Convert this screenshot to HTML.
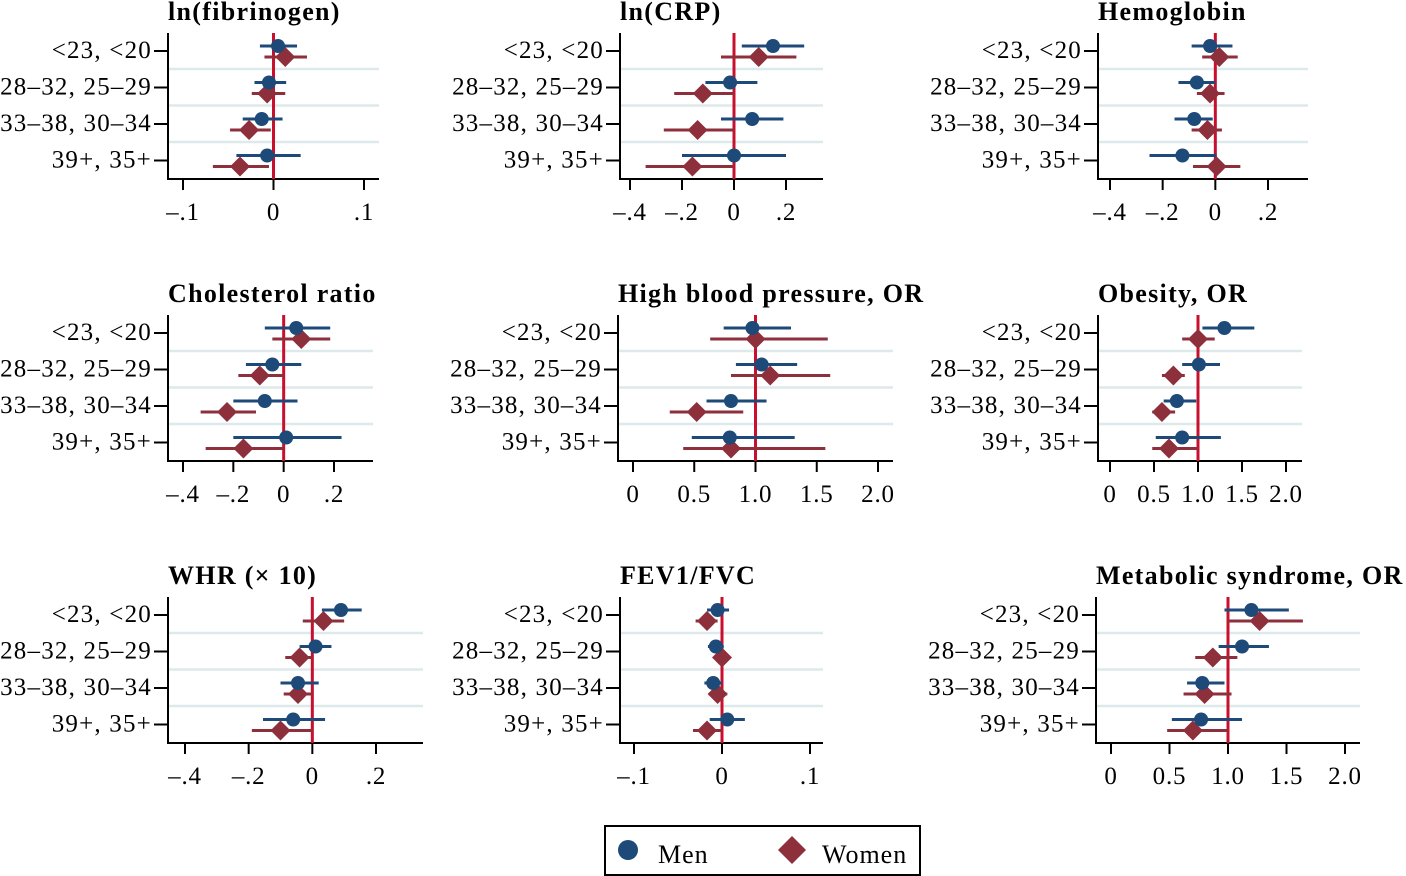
<!DOCTYPE html>
<html><head><meta charset="utf-8">
<style>
html,body{margin:0;padding:0;background:#fff;}
svg{display:block;font-family:"Liberation Serif",serif;}
</style></head>
<body>
<svg id="chart" width="1406" height="876" viewBox="0 0 1406 876"></svg>
<script>
const categories = ["<23, <20","28–32, 25–29","33–38, 30–34","39+, 35+"];
const titles = ["ln(fibrinogen)","ln(CRP)","Hemoglobin","Cholesterol ratio","High blood pressure, OR","Obesity, OR","WHR (× 10)","FEV1/FVC","Metabolic syndrome, OR"];
const refValues = [0,0,0,0,1,1,0,0,1];
const tickValues = [[-0.1,0,0.1],[-0.4,-0.2,0,0.2],[-0.4,-0.2,0,0.2],[-0.4,-0.2,0,0.2],[0,0.5,1,1.5,2],[0,0.5,1,1.5,2],[-0.4,-0.2,0,0.2],[-0.1,0,0.1],[0,0.5,1,1.5,2]];
const tickLabels = [["–.1","0",".1"],["–.4","–.2","0",".2"],["–.4","–.2","0",".2"],["–.4","–.2","0",".2"],["0","0.5","1.0","1.5","2.0"],["0","0.5","1.0","1.5","2.0"],["–.4","–.2","0",".2"],["–.1","0",".1"],["0","0.5","1.0","1.5","2.0"]];
const menEst = [[0.005,-0.005,-0.013,-0.007],[0.15,-0.015,0.07,0],[-0.02,-0.07,-0.08,-0.125],[0.05,-0.045,-0.075,0.01],[0.975,1.05,0.8,0.79],[1.3,1.01,0.76,0.82],[0.09,0.01,-0.045,-0.06],[-0.005,-0.007,-0.01,0.006],[1.2,1.12,0.78,0.77]];
const menLo = [[-0.015,-0.021,-0.034,-0.041],[0.03,-0.11,-0.05,-0.2],[-0.09,-0.14,-0.155,-0.25],[-0.075,-0.15,-0.2,-0.2],[0.74,0.84,0.6,0.48],[1.05,0.82,0.61,0.52],[0.03,-0.04,-0.1,-0.155],[-0.017,-0.016,-0.02,-0.014],[0.97,0.92,0.65,0.52]];
const menHi = [[0.026,0.014,0.01,0.03],[0.27,0.09,0.19,0.2],[0.065,0,-0.01,0.005],[0.185,0.07,0.055,0.23],[1.29,1.34,1.09,1.32],[1.64,1.25,0.98,1.26],[0.155,0.06,0.02,0.04],[0.008,0.002,0,0.026],[1.52,1.35,0.97,1.12]];
const womenEst = [[0.013,-0.007,-0.027,-0.037],[0.095,-0.12,-0.14,-0.16],[0.015,-0.02,-0.03,0.005],[0.07,-0.095,-0.225,-0.16],[1.0,1.12,0.52,0.8],[1.0,0.72,0.59,0.67],[0.035,-0.04,-0.045,-0.1],[-0.017,0,-0.005,-0.017],[1.27,0.87,0.8,0.7]];
const womenLo = [[-0.01,-0.024,-0.048,-0.067],[-0.05,-0.23,-0.27,-0.34],[-0.05,-0.07,-0.09,-0.085],[-0.045,-0.18,-0.33,-0.31],[0.63,0.8,0.3,0.41],[0.82,0.59,0.48,0.48],[-0.03,-0.085,-0.09,-0.19],[-0.03,-0.009,-0.015,-0.033],[1.0,0.72,0.62,0.48]];
const womenHi = [[0.037,0.013,-0.003,-0.005],[0.24,0,0,0],[0.085,0.035,0.025,0.095],[0.185,0,-0.11,0],[1.59,1.61,0.9,1.57],[1.19,0.85,0.74,1.0],[0.1,0,0,0],[-0.005,0.009,0.006,0],[1.64,1.08,1.03,1.0]];

const L = [
 {ax:168,right:379,row:0,p0:183,v0:-0.1,p1:364,v1:0.1},
 {ax:620,right:823,row:0,p0:630,v0:-0.4,p1:786,v1:0.2},
 {ax:1098,right:1308,row:0,p0:1110,v0:-0.4,p1:1268,v1:0.2},
 {ax:168,right:373,row:1,p0:183,v0:-0.4,p1:334,v1:0.2},
 {ax:618,right:893,row:1,p0:633,v0:0,p1:878,v1:2},
 {ax:1098,right:1302,row:1,p0:1110,v0:0,p1:1286,v1:2},
 {ax:168,right:423,row:2,p0:185,v0:-0.4,p1:376,v1:0.2},
 {ax:620,right:823,row:2,p0:634,v0:-0.1,p1:810,v1:0.1},
 {ax:1096,right:1360,row:2,p0:1111,v0:0,p1:1345,v1:2}
];
const rowTop=[33,315,597];
const NS='http://www.w3.org/2000/svg';
const svg=document.getElementById('chart');
function mk(tag,attrs,parent){const e=document.createElementNS(NS,tag);for(const k in attrs)e.setAttribute(k,attrs[k]);(parent||svg).appendChild(e);return e;}
const NAVY='#1d4a78',MAROON='#8e2f3c',RED='#c8102e';
L.forEach((g,i)=>{
  const grp=mk('g',{});
  
  
  const top=rowTop[g.row],bot=top+146;
  const xs=v=>g.p0+(v-g.v0)*(g.p1-g.p0)/(g.v1-g.v0);
  const cy=k=>top+18+k*36.5;
  const t=mk('text',{x:g.ax,y:top-13,'font-size':26,'font-weight':'bold','letter-spacing':1.3,fill:'#000'},grp);
  t.textContent=titles[i];
  
  
  for(let k=0;k<3;k++){
    const s=mk('line',{x1:g.ax,x2:g.right,y1:cy(k)+18,y2:cy(k)+18,stroke:'#dde9ea','stroke-width':2.5},grp);
    
    
  }
  const ya=mk('line',{x1:g.ax,x2:g.ax,y1:top,y2:bot+1,stroke:'#000','stroke-width':2},grp);
  
  
  const xa=mk('line',{x1:g.ax-1,x2:g.right,y1:bot,y2:bot,stroke:'#000','stroke-width':2},grp);
  
  
  categories.forEach((c,k)=>{
    mk('line',{x1:g.ax-14,x2:g.ax,y1:cy(k),y2:cy(k),stroke:'#000','stroke-width':2},grp);
    const lt=mk('text',{x:g.ax-16,y:cy(k)+7,'font-size':25,'letter-spacing':1.2,'text-anchor':'end',fill:'#000'},grp);
    lt.textContent=c;
    
    
  });
  tickValues[i].forEach((v,k)=>{
    const x=xs(v);
    mk('line',{x1:x,x2:x,y1:bot,y2:bot+11,stroke:'#000','stroke-width':2},grp);
    const tt=mk('text',{x:x,y:bot+41,'font-size':25,'letter-spacing':0.8,'text-anchor':'middle',fill:'#000'},grp);
    tt.textContent=tickLabels[i][k];
    
    
  });
  const rx=xs(refValues[i]);
  const rl=mk('line',{x1:rx,x2:rx,y1:top,y2:bot,stroke:RED,'stroke-width':3},grp);
  
  
  categories.forEach((c,k)=>{
    const ym=cy(k)-5, yw=cy(k)+6;
    const ci1=mk('line',{x1:xs(menLo[i][k]),x2:xs(menHi[i][k]),y1:ym,y2:ym,stroke:NAVY,'stroke-width':3},grp);
    
    
    const ci2=mk('line',{x1:xs(womenLo[i][k]),x2:xs(womenHi[i][k]),y1:yw,y2:yw,stroke:MAROON,'stroke-width':3},grp);
    
    
    const d=xs(womenEst[i][k]);
    const dm=mk('polygon',{points:`${d},${yw-10} ${d+10},${yw} ${d},${yw+10} ${d-10},${yw}`,fill:MAROON},grp);
    
    
    const cm=mk('circle',{cx:xs(menEst[i][k]),cy:ym,r:7,fill:NAVY},grp);
    
    
  });
});
const lg=mk('g',{});


mk('rect',{x:605,y:826,width:315,height:49,fill:'#fff',stroke:'#000','stroke-width':2},lg);
const lc=mk('circle',{cx:628,cy:850,r:10,fill:NAVY},lg);


const lt1=mk('text',{x:658,y:863,'font-size':26,'letter-spacing':1,fill:'#000'},lg);
lt1.textContent='Men';


const ld=mk('polygon',{points:'792,836 806,850 792,864 778,850',fill:MAROON},lg);


const lt2=mk('text',{x:822,y:863,'font-size':26,'letter-spacing':1,fill:'#000'},lg);
lt2.textContent='Women';


</script>
</body></html>
